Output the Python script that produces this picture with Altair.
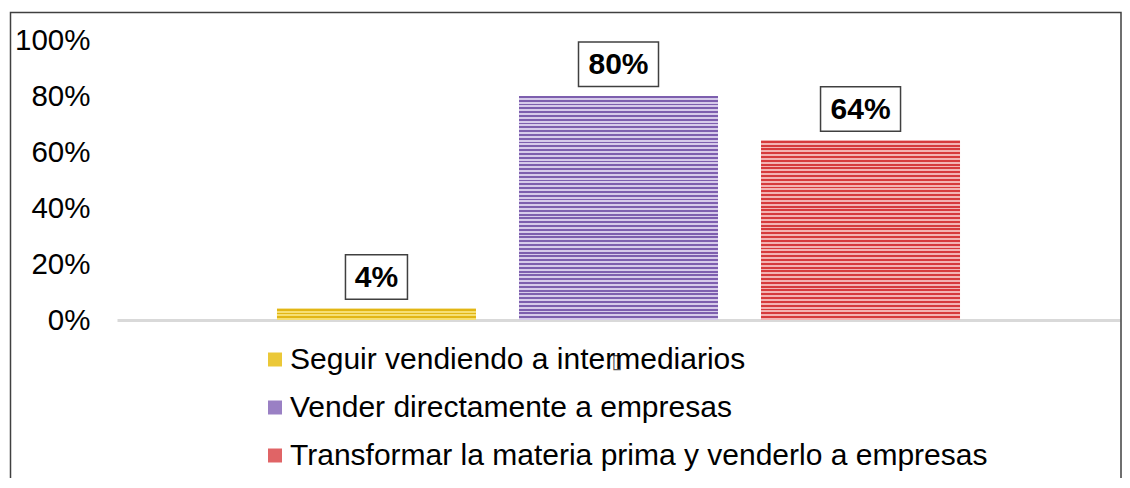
import altair as alt
import pandas as pd

categories = [
    "Seguir vendiendo a intermediarios",
    "Vender directamente a empresas",
    "Transformar la materia prima y venderlo a empresas",
]
values = [0.04, 0.80, 0.64]
labels = ["4%", "80%", "64%"]

dark = ["#e2b614", "#7d5fae", "#d63a3c"]
light = ["#f6df73", "#d6cbea", "#f3b3b3"]
mid = ["#ebc838", "#9a80c4", "#e06466"]

df = pd.DataFrame({"cat": categories, "v": values, "label": labels})

W, H = 1003, 280

x_enc = alt.X("cat:N", sort=categories,
              scale=alt.Scale(paddingInner=0.178, paddingOuter=0.661),
              axis=alt.Axis(labels=False, ticks=False, title=None,
                            domainColor="#d9d9d9", domainWidth=3))
y_enc = alt.Y("v:Q", scale=alt.Scale(domain=[0, 1]),
              axis=alt.Axis(values=[0, 0.2, 0.4, 0.6, 0.8, 1.0], format=".0%",
                            grid=False, ticks=False, domain=False, title=None,
                            labelFontSize=29.5, labelColor="#000000",
                            labelFont="Liberation Sans", labelPadding=27))

base = alt.Chart(df)

legend_layer = base.mark_bar().encode(
    x=x_enc, y=y_enc,
    color=alt.Color("cat:N", sort=categories,
                    scale=alt.Scale(domain=categories, range=mid),
                    legend=alt.Legend(title=None, orient="none", legendX=143, legendY=304.5,
                                      symbolType="square", symbolSize=196,
                                      symbolStrokeWidth=0, symbolOpacity=1,
                                      labelFontSize=30, labelFont="Liberation Sans",
                                      labelColor="#000000", labelOffset=0,
                                      rowPadding=18, padding=0, labelLimit=900)),
)


def stripes(i):
    n = max(2, round(values[i] * H / 3.8))
    stops = []
    for k in range(n):
        a = k / n
        b = (k + 0.5) / n
        c = (k + 1) / n
        stops += [
            alt.GradientStop(color=dark[i], offset=a),
            alt.GradientStop(color=dark[i], offset=b),
            alt.GradientStop(color=light[i], offset=b),
            alt.GradientStop(color=light[i], offset=c),
        ]
    return alt.Gradient(gradient="linear", stops=stops, x1=0, x2=0, y1=0, y2=1)


stripe_layers = [
    base.transform_filter(alt.datum.cat == categories[i])
    .mark_bar(fill=stripes(i))
    .encode(x=alt.X("cat:N", sort=categories), y="v:Q")
    for i in range(3)
]

boxes = base.transform_calculate(bw="length(datum.label)*18+26").mark_bar(
    fill="white", stroke="#404040", strokeWidth=1.5, yOffset=-9.5, y2Offset=-54
).encode(
    x=alt.X("cat:N", sort=categories),
    y="v:Q",
    y2="v:Q",
    size=alt.Size("bw:Q", scale=None, legend=None),
)

texts = base.mark_text(
    fontSize=30, fontWeight="bold", font="Liberation Sans", color="#000000",
    baseline="middle", dy=-31
).encode(x=alt.X("cat:N", sort=categories), y="v:Q", text="label:N")

tofu = alt.Chart(pd.DataFrame({"t": ["\u25af"]})).mark_text(
    fontSize=20, color="#555555", font="DejaVu Sans", baseline="middle"
).encode(x=alt.value(500), y=alt.value(322), text="t:N")

frame = alt.Chart(pd.DataFrame({"t": [0]})).mark_rect(
    fill=None, stroke="#404040", strokeWidth=1.5
).encode(x=alt.value(-106.5), x2=alt.value(1004), y=alt.value(-27.5), y2=alt.value(470))

chart = alt.layer(frame, legend_layer, *stripe_layers, boxes, texts, tofu).properties(
    width=W, height=H,
    background="white",
    autosize=alt.AutoSizeParams(type="none"),
    padding={"left": 109, "top": 32, "right": 2, "bottom": 158},
).configure_view(stroke=None)

chart.save("out.html", embed_options={"renderer": "svg", "actions": False})
